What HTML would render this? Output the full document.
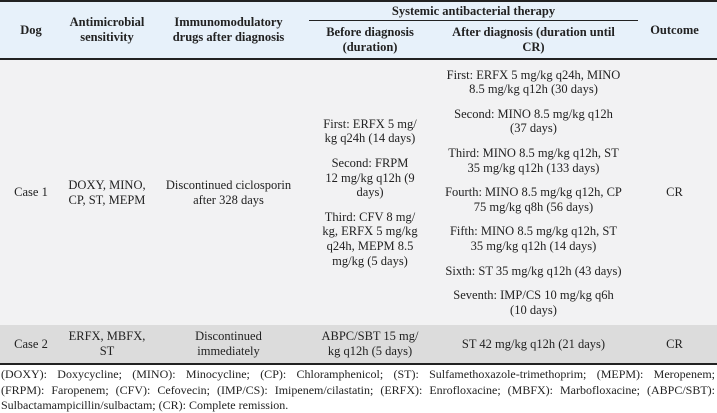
<!DOCTYPE html>
<html><head><meta charset="utf-8"><style>
body{margin:0;width:717px;height:413px;background:#fff;font-family:"Liberation Serif","Times New Roman",serif;font-size:12.5px;color:#222;position:relative;overflow:hidden}
.a{position:absolute}
.c{position:absolute;display:flex;flex-direction:column;justify-content:center;align-items:center;text-align:center;line-height:14.6px;white-space:nowrap}
.b{font-weight:bold}
.g{display:flex;flex-direction:column;gap:10px;align-items:center}
.f{position:absolute;left:1px;width:714px;font-size:12px;text-align:justify;text-align-last:justify;white-space:nowrap}
</style></head><body>
<div class="a" style="left:0;top:0;width:717px;height:60px;background:#e7f1fa"></div>
<div class="a" style="left:0;top:60px;width:717px;height:265px;background:#f2f2f3"></div>
<div class="a" style="left:0;top:325px;width:717px;height:38px;background:#dcdcdc"></div>
<div class="a" style="left:0;top:0;width:717px;height:2px;background:#222"></div>
<div class="a" style="left:0;top:58px;width:717px;height:2px;background:#222"></div>
<div class="a" style="left:0;top:363px;width:717px;height:2px;background:#222"></div>
<div class="a" style="left:309px;top:20px;width:329px;height:1px;background:#222"></div>

<div class="c b" style="left:0;top:2px;width:62px;height:56px">Dog</div>
<div class="c b" style="left:62px;top:2px;width:90px;height:56px">Antimicrobial<br>sensitivity</div>
<div class="c b" style="left:152px;top:2px;width:153px;height:56px">Immunomodulatory<br>drugs after diagnosis</div>
<div class="c b" style="left:309px;top:2px;width:329px;height:18px">Systemic antibacterial therapy</div>
<div class="c b" style="left:305px;top:22px;width:130px;height:36px">Before diagnosis<br>(duration)</div>
<div class="c b" style="left:435px;top:22px;width:197px;height:36px">After diagnosis (duration until<br>CR)</div>
<div class="c b" style="left:632px;top:2px;width:85px;height:56px">Outcome</div>

<div class="c" style="left:0;top:60px;width:62px;height:265px">Case 1</div>
<div class="c" style="left:62px;top:60px;width:90px;height:265px">DOXY, MINO,<br>CP, ST, MEPM</div>
<div class="c" style="left:152px;top:60px;width:153px;height:265px">Discontinued ciclosporin<br>after 328 days</div>
<div class="c" style="left:305px;top:60px;width:130px;height:265px"><div class="g">
<div>First: ERFX 5 mg/<br>kg q24h (14 days)</div>
<div>Second: FRPM<br>12 mg/kg q12h (9<br>days)</div>
<div>Third: CFV 8 mg/<br>kg, ERFX 5 mg/kg<br>q24h, MEPM 8.5<br>mg/kg (5 days)</div></div></div>
<div class="c" style="left:435px;top:60px;width:197px;height:265px"><div class="g">
<div>First: ERFX 5 mg/kg q24h, MINO<br>8.5 mg/kg q12h (30 days)</div>
<div>Second: MINO 8.5 mg/kg q12h<br>(37 days)</div>
<div>Third: MINO 8.5 mg/kg q12h, ST<br>35 mg/kg q12h (133 days)</div>
<div>Fourth: MINO 8.5 mg/kg q12h, CP<br>75 mg/kg q8h (56 days)</div>
<div>Fifth: MINO 8.5 mg/kg q12h, ST<br>35 mg/kg q12h (14 days)</div>
<div>Sixth: ST 35 mg/kg q12h (43 days)</div>
<div>Seventh: IMP/CS 10 mg/kg q6h<br>(10 days)</div></div></div>
<div class="c" style="left:632px;top:60px;width:85px;height:265px">CR</div>

<div class="c" style="left:0;top:325px;width:62px;height:38px">Case 2</div>
<div class="c" style="left:62px;top:325px;width:90px;height:38px">ERFX, MBFX,<br>ST</div>
<div class="c" style="left:152px;top:325px;width:153px;height:38px">Discontinued<br>immediately</div>
<div class="c" style="left:305px;top:325px;width:130px;height:38px">ABPC/SBT 15 mg/<br>kg q12h (5 days)</div>
<div class="c" style="left:435px;top:325px;width:197px;height:38px">ST 42 mg/kg q12h (21 days)</div>
<div class="c" style="left:632px;top:325px;width:85px;height:38px">CR</div>

<div class="f" style="top:367px">(DOXY): Doxycycline; (MINO): Minocycline; (CP): Chloramphenicol; (ST): Sulfamethoxazole-trimethoprim; (MEPM): Meropenem;</div>
<div class="f" style="top:383px">(FRPM): Faropenem; (CFV): Cefovecin; (IMP/CS): Imipenem/cilastatin; (ERFX): Enrofloxacine; (MBFX): Marbofloxacine; (ABPC/SBT):</div>
<div class="f" style="top:398px;text-align-last:left">Sulbactamampicillin/sulbactam; (CR): Complete remission.</div>
</body></html>
